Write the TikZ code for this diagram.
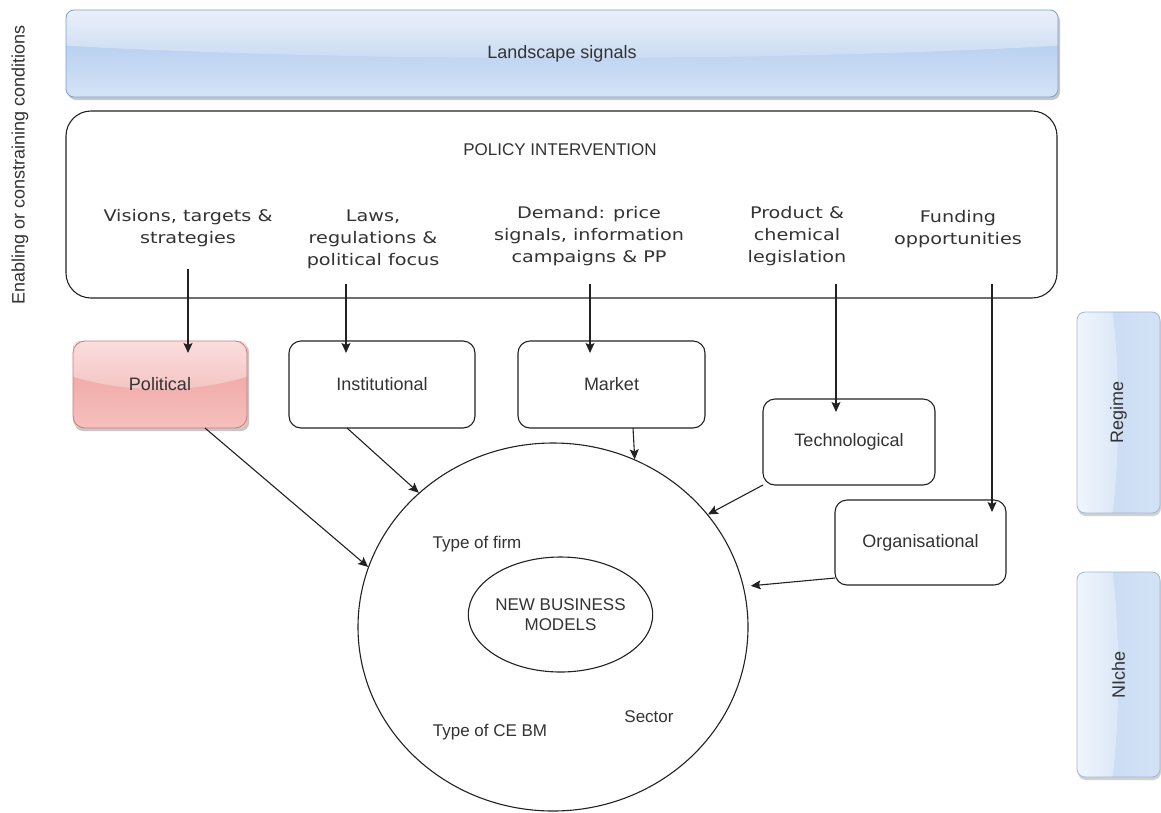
\documentclass[tikz,border=0pt]{standalone}
\usepackage{fontspec}
\setmainfont{Liberation Sans}
\newfontfamily\dvsans[FakeStretch=1.2]{DejaVu Sans}
\usetikzlibrary{arrows.meta,calc,shapes.geometric}
\definecolor{ink}{HTML}{333333}
\definecolor{edge}{HTML}{222222}
% glossy fills
\definecolor{bluehiA}{HTML}{EAF0F9}
\definecolor{bluehiB}{HTML}{C9DAF2}
\definecolor{bluelowA}{HTML}{A9C5EC}
\definecolor{bluelowB}{HTML}{D4E3F7}
\definecolor{bluestroke}{HTML}{7F9FCF}
\definecolor{redhiA}{HTML}{FADDDC}
\definecolor{redhiB}{HTML}{F4C3C2}
\definecolor{redlowA}{HTML}{EC9F9D}
\definecolor{redlowB}{HTML}{F6BFBD}
\definecolor{redstroke}{HTML}{C97C79}
\definecolor{sideA}{HTML}{F0F5FC}
\definecolor{sideB}{HTML}{DAE6F7}
\definecolor{sideC}{HTML}{C6D9F2}
\definecolor{sideD}{HTML}{D3E2F6}
\definecolor{sidestroke}{HTML}{9FB6DA}

% horizontal glass panel: x0 y0 x1 y1, highlight top/bottom, body top/bottom
\newcommand{\glassH}[8]{%
  \fill[black!22, rounded corners=8] ({#1+2},{#2+3}) rectangle ({#3+2},{#4+3});
  \begin{scope}
    \clip[rounded corners=8] (#1,#2) rectangle (#3,#4);
    \shade[top color=#7, bottom color=#8] (#1,#2) rectangle (#3,#4);
    \shade[top color=#5, bottom color=#6] (#1,#2) -- (#3,#2) -- (#3,{#2+0.41*(#4-#2)})
      .. controls ({#1+0.7*(#3-#1)},{#2+0.6*(#4-#2)}) and ({#1+0.3*(#3-#1)},{#2+0.6*(#4-#2)})
      .. (#1,{#2+0.41*(#4-#2)}) -- cycle;
  \end{scope}}
% vertical glass panel: highlight on the left half
\newcommand{\glassV}[8]{%
  \fill[black!18, rounded corners=8] ({#1+1},{#2+3}) rectangle ({#3+1},{#4+3});
  \begin{scope}
    \clip[rounded corners=8] (#1,#2) rectangle (#3,#4);
    \shade[left color=#7, right color=#8] (#1,#2) rectangle (#3,#4);
    \shade[left color=#5, right color=#6] (#1,#2) -- ({#1+0.43*(#3-#1)},#2)
      .. controls ({#1+0.52*(#3-#1)},{#2+0.3*(#4-#2)}) and ({#1+0.52*(#3-#1)},{#2+0.7*(#4-#2)})
      .. ({#1+0.43*(#3-#1)},#4) -- (#1,#4) -- cycle;
  \end{scope}}

\begin{document}
\begin{tikzpicture}[x=1pt,y=-1pt,
  lbl/.style={font=\fontsize{18}{21}\selectfont, text=ink, align=center},
  small/.style={font=\fontsize{17}{20}\selectfont, text=ink, align=center},
  polt/.style={font=\dvsans\fontsize{16}{22}\selectfont, text=ink, align=center},
  box/.style={draw=edge, line width=1.1pt, rounded corners=12, inner sep=0pt, outer sep=0pt,
    lbl},
  arr/.style={draw=edge, line width=1.1pt, -{Stealth[length=10pt,width=9pt,inset=2pt]}},
]
\useasboundingbox (0,0) rectangle (1161,812);
\fill[white] (0,0) rectangle (1161,812);

% ---- landscape band ----
\glassH{66}{10}{1058}{97}{bluehiA}{bluehiB}{bluelowA}{bluelowB}
\node[draw=bluestroke, line width=0.8pt, rounded corners=8, minimum width=992, minimum height=87,
  inner sep=0pt, outer sep=0pt, lbl] (land) at (562,53.5) {Landscape signals};

% ---- policy intervention ----
\node[draw=edge, line width=1.1pt, rounded corners=25, minimum width=991, minimum height=187,
  inner sep=0pt, outer sep=0pt] (policy) at (561.5,204.5) {};
\node[small] (ptitle) at (560,150) {POLICY INTERVENTION};
\node[polt] (vis)  at (188,228.5) {Visions, targets \&\\strategies};
\node[polt] (laws) at (373,239)   {Laws,\\regulations \&\\political focus};
\node[polt] (dem)  at (589,236.5) {Demand: price\\signals, information\\campaigns \& PP};
\node[polt] (prod) at (797,236)   {Product \&\\chemical\\legislation};
\node[polt] (fund) at (958,229)   {Funding\\opportunities};

% ---- regime dimensions ----
\glassH{73}{341}{247}{428}{redhiA}{redhiB}{redlowA}{redlowB}
\node[box, draw=redstroke, line width=0.8pt] (pol) at (160,384.5)
  [minimum width=174, minimum height=87] {Political};
\node[box, minimum width=186, minimum height=87] (inst) at (382,384.5) {Institutional};
\node[box, minimum width=187, minimum height=87] (mkt) at (611.5,384.5) {Market};
\node[box, minimum width=172, minimum height=86] (tech) at (849,442) {Technological};
\node[box, minimum width=171, minimum height=85] (org) at (920.5,542.5) {Organisational};

% ---- business model circle ----
\node[draw=edge, line width=1.1pt, ellipse, minimum width=390, minimum height=368,
  inner sep=0pt] (ce) at (553,627) {};
\node[draw=edge, line width=1.1pt, ellipse, minimum width=173, minimum height=115,
  inner sep=0pt, small] (nbm) at (560.5,614.5) {NEW BUSINESS\\MODELS};
\node[small] (firm) at (477,544) {Type of firm};
\node[small] (cebm) at (490,732) {Type of CE BM};
\node[small] (sect) at (649,717) {Sector};

% ---- side labels ----
\node[lbl, rotate=90] (cond) at (20,165) {Enabling or constraining conditions};
\glassV{1077}{312}{1160}{513}{sideA}{sideB}{sideC}{sideD}
\node[draw=sidestroke, line width=0.8pt, rounded corners=8, minimum width=83, minimum height=201,
  inner sep=0pt, outer sep=0pt] (regime) at (1118.5,412.5) {};
\node[lbl, rotate=90] (regt) at (regime.center) {Regime};
\glassV{1077}{572}{1160}{777}{sideA}{sideB}{sideC}{sideD}
\node[draw=sidestroke, line width=0.8pt, rounded corners=8, minimum width=83, minimum height=205,
  inner sep=0pt, outer sep=0pt] (niche) at (1118.5,674.5) {};
\node[lbl, rotate=90] (nict) at (niche.center) {NIche};

% ---- policy channels ----
\coordinate (s1) at (188,269);
\coordinate (s2) at (346,284);
\coordinate (s3) at (590,284);
\coordinate (s4) at (836,284);
\coordinate (s5) at (992,284);
\draw[arr] (s1) -- ($(s1 |- pol.north)+(0,12)$);
\draw[arr] (s2) -- ($(s2 |- inst.north)+(0,12)$);
\draw[arr] (s3) -- ($(s3 |- mkt.north)+(0,12)$);
\draw[arr] (s4) -- ($(s4 |- tech.north)+(0,13)$);
\draw[arr] (s5) -- ($(s5 |- org.north)+(0,12)$);

% ---- dimensions acting on business models ----
\draw[arr] ([xshift=45pt]pol.south) -- (ce.162);
\draw[arr] ([xshift=-35pt]inst.south) -- (ce.135.8);
\draw[arr] ([xshift=21.5pt]mkt.south) -- (ce.64.4);
\draw[arr] (tech.south west) -- (ce.36.5);
\draw[arr, shorten >=7pt] ([yshift=7pt]org.south west) -- (ce.12.8);
\end{tikzpicture}
\end{document}
